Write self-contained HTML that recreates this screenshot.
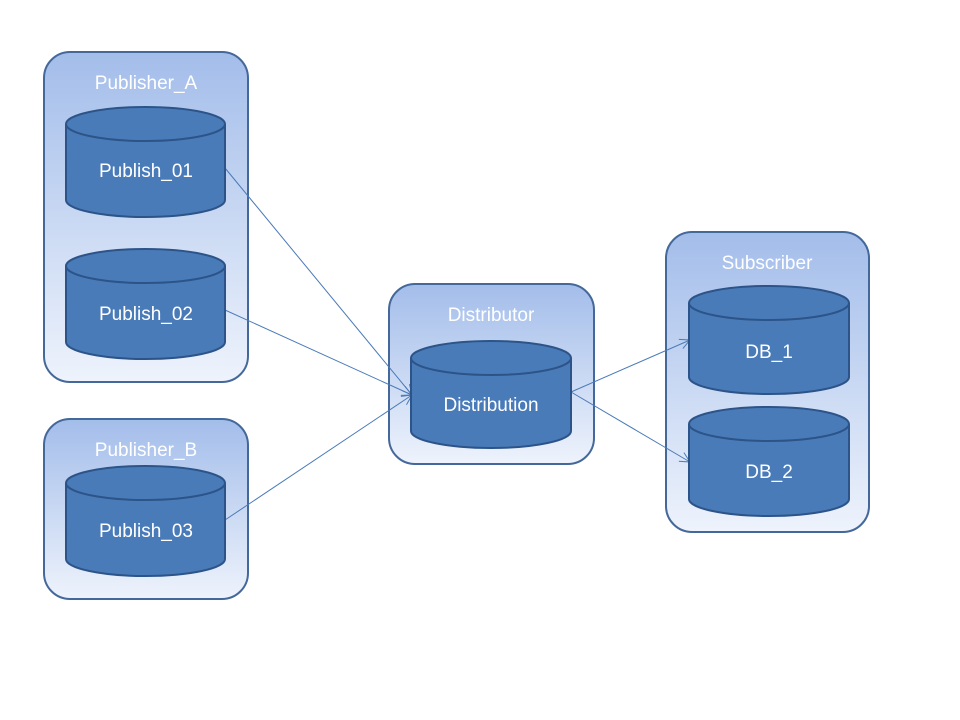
<!DOCTYPE html>
<html><head><meta charset="utf-8"><style>html,body{margin:0;padding:0;background:#fff}svg{display:block}</style></head>
<body>
<svg width="960" height="720" viewBox="0 0 960 720" xmlns="http://www.w3.org/2000/svg" font-family="'Liberation Sans', sans-serif">
<defs>
<linearGradient id="g" x1="0" y1="0" x2="0" y2="1">
<stop offset="0" stop-color="#a3bdea"/><stop offset="1" stop-color="#eef3fc"/>
</linearGradient>
<marker id="a" markerWidth="12" markerHeight="12" refX="11" refY="6" orient="auto" markerUnits="userSpaceOnUse">
<path d="M1,1 L11,6 L1,11" fill="none" stroke="#4a7ab8" stroke-width="1"/>
</marker>
</defs>
<g stroke="#44689a" stroke-width="2" fill="url(#g)">
<rect x="44" y="52" width="204" height="330" rx="26"/>
<rect x="44" y="419" width="204" height="180" rx="26"/>
<rect x="389" y="284" width="205" height="180" rx="26"/>
<rect x="666" y="232" width="203" height="300" rx="26"/>
</g>
<g fill="#fff" font-size="19" text-anchor="middle">
<text x="146" y="89">Publisher_A</text>
<text x="146" y="456">Publisher_B</text>
<text x="491" y="321">Distributor</text>
<text x="767" y="269">Subscriber</text>
</g>
<g stroke="#4a7ab8" stroke-width="1" fill="none" marker-end="url(#a)">
<line x1="225" y1="168" x2="412" y2="395"/>
<line x1="225" y1="310" x2="412" y2="395"/>
<line x1="225" y1="520" x2="412" y2="395"/>
<line x1="571" y1="392" x2="690" y2="340"/>
<line x1="571" y1="392" x2="690" y2="462"/>
</g>
<g stroke="#2c5488" stroke-width="2" fill="#4a7bb9">
<path d="M66,124 V200 A79.5,17 0 0 0 225,200 V124"/><ellipse cx="145.5" cy="124" rx="79.5" ry="17"/>
<path d="M66,266 V342 A79.5,17 0 0 0 225,342 V266"/><ellipse cx="145.5" cy="266" rx="79.5" ry="17"/>
<path d="M66,483 V559 A79.5,17 0 0 0 225,559 V483"/><ellipse cx="145.5" cy="483" rx="79.5" ry="17"/>
<path d="M411,358 V431 A80,17 0 0 0 571,431 V358"/><ellipse cx="491" cy="358" rx="80" ry="17"/>
<path d="M689,303 V377 A80,17 0 0 0 849,377 V303"/><ellipse cx="769" cy="303" rx="80" ry="17"/>
<path d="M689,424 V499 A80,17 0 0 0 849,499 V424"/><ellipse cx="769" cy="424" rx="80" ry="17"/>
</g>
<g fill="#fff" font-size="19" text-anchor="middle">
<text x="146" y="177">Publish_01</text>
<text x="146" y="320">Publish_02</text>
<text x="146" y="537">Publish_03</text>
<text x="491" y="411">Distribution</text>
<text x="769" y="358">DB_1</text>
<text x="769" y="478">DB_2</text>
</g>
</svg>
</body></html>
